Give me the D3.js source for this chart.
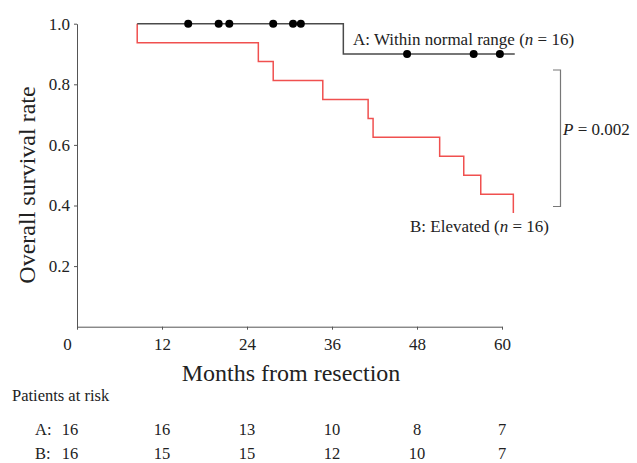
<!DOCTYPE html>
<html>
<head>
<meta charset="utf-8">
<script src="https://cdn.jsdelivr.net/npm/d3@7"></script>
<style>
  body { margin: 0; background: #fff; }
  svg { display: block; font-family: "Liberation Serif", "Times New Roman", serif; }
  .axis path, .axis line { stroke: #555; }
  .axis text { font-family: "Liberation Serif", serif; font-size: 17px; fill: #222; }
</style>
</head>
<body>
<svg id="km" width="637" height="463"></svg>
<script>
const width = 637;
const height = 463;

// group A: within normal range (step points, then censored times)
const timesA = [8.5, 37.6, 61.8];
const survA = [1.0, 0.9, 0.9];
const censorA = [15.7, 20.0, 21.5, 27.7, 30.5, 31.6, 46.6, 56.0, 59.7];

// group B: elevated
const timesB = [8.5, 8.5, 25.6, 27.7, 34.7, 41.1, 41.8, 51.2, 54.6, 57.0, 61.6];
const survB = [1.0, 0.9375, 0.875, 0.8125, 0.75, 0.6875, 0.625, 0.5625, 0.5, 0.4375, 0.375];

// axis ticks and patients at risk
const monthTicks = [0, 12, 24, 36, 48, 60];
const survTicks = [0.2, 0.4, 0.6, 0.8, 1.0];
const riskA = [16, 16, 13, 10, 8, 7];
const riskB = [16, 15, 15, 12, 10, 7];

const svg = d3.select("#km");

const x = d3.scaleLinear().domain([0, 60]).range([77, 502]);
const y = d3.scaleLinear().domain([0, 1]).range([326.7, 23.7]);

// axes
svg.append("g")
    .attr("class", "axis")
    .attr("transform", `translate(0, ${y(0)})`)
    .call(d3.axisBottom(x).tickValues(monthTicks).tickSize(3).tickSizeOuter(0).tickPadding(8))
    .call(g => g.selectAll(".tick text").filter(d => d === 0).attr("dx", -10));

svg.append("g")
    .attr("class", "axis")
    .attr("transform", `translate(${x(0)}, 0)`)
    .call(d3.axisLeft(y).tickValues(survTicks).tickSize(3).tickSizeOuter(0).tickPadding(4).tickFormat(d3.format(".1f")));

// survival curves
const stepLine = d3.line()
    .x(d => x(d[0]))
    .y(d => y(d[1]))
    .curve(d3.curveStepAfter);

svg.append("path")
    .datum(timesB.map((t, i) => [t, survB[i]]))
    .attr("fill", "none")
    .attr("stroke", "#f0504f")
    .attr("stroke-width", 1.5)
    .attr("d", stepLine);

svg.append("path")
    .datum(timesA.map((t, i) => [t, survA[i]]))
    .attr("fill", "none")
    .attr("stroke", "#4a4a4a")
    .attr("stroke-width", 1.5)
    .attr("d", stepLine);

// censor marks on A
svg.selectAll(".censor")
    .data(censorA)
    .join("circle")
    .attr("class", "censor")
    .attr("cx", d => x(d))
    .attr("cy", d => y(d < timesA[1] ? survA[0] : survA[1]))
    .attr("r", 4)
    .attr("fill", "#000");

// group labels
svg.append("text")
    .attr("x", 353)
    .attr("y", 45)
    .attr("font-size", "17px")
    .attr("fill", "#222")
    .html('A: Within normal range (<tspan font-style="italic">n</tspan> = 16)');

svg.append("text")
    .attr("x", 410)
    .attr("y", 232)
    .attr("font-size", "17px")
    .attr("fill", "#222")
    .html('B: Elevated (<tspan font-style="italic">n</tspan> = 16)');

// bracket with P value
svg.append("path")
    .attr("fill", "none")
    .attr("stroke", "#777")
    .attr("stroke-width", 1.2)
    .attr("d", `M553,70 H560.5 V206.5 H553`);

svg.append("text")
    .attr("x", 563)
    .attr("y", 135)
    .attr("font-size", "17px")
    .attr("fill", "#222")
    .html('<tspan font-style="italic">P</tspan> = 0.002');

// axis titles
svg.append("text")
    .attr("x", 291)
    .attr("y", 381)
    .attr("text-anchor", "middle")
    .attr("font-size", "24px")
    .attr("fill", "#222")
    .text("Months from resection");

svg.append("text")
    .attr("transform", "translate(35, 185) rotate(-90)")
    .attr("text-anchor", "middle")
    .attr("font-size", "24px")
    .attr("fill", "#222")
    .text("Overall survival rate");

// patients at risk table
svg.append("text")
    .attr("x", 12)
    .attr("y", 401)
    .attr("font-size", "16.5px")
    .attr("fill", "#222")
    .text("Patients at risk");

[["A:", riskA, 435], ["B:", riskB, 459]].forEach(function (row) {
    svg.append("text")
        .attr("x", 35)
        .attr("y", row[2])
        .attr("font-size", "16.5px")
        .attr("fill", "#222")
        .text(row[0]);
    svg.selectAll(null)
        .data(row[1])
        .join("text")
        .attr("x", (d, i) => x(monthTicks[i]) + (i === 0 ? -7 : 0))
        .attr("y", row[2])
        .attr("text-anchor", "middle")
        .attr("font-size", "16.5px")
        .attr("fill", "#222")
        .text(d => d);
});
</script>
</body>
</html>
